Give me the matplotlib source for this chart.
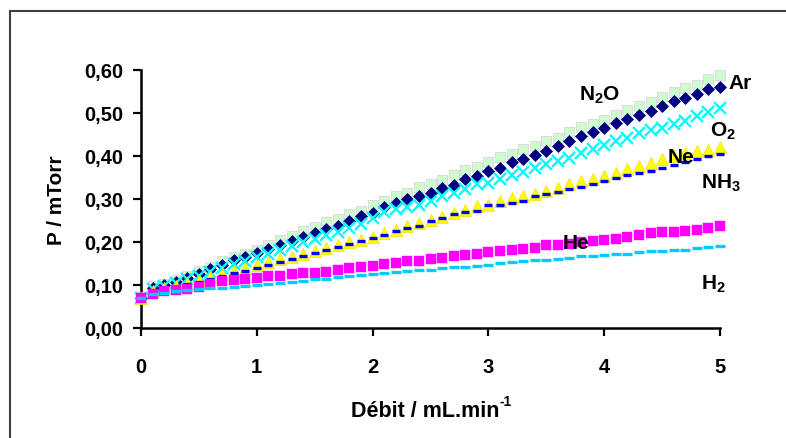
import matplotlib
matplotlib.use("Agg")
import matplotlib.pyplot as plt
from matplotlib.patches import Rectangle

# ---------------- data ----------------
debit = [0.0, 0.1, 0.2, 0.3, 0.4, 0.5, 0.6, 0.7, 0.8, 0.9,
         1.0, 1.1, 1.2, 1.3, 1.4, 1.5, 1.6, 1.7, 1.8, 1.9,
         2.0, 2.1, 2.2, 2.3, 2.4, 2.5, 2.6, 2.7, 2.8, 2.9,
         3.0, 3.1, 3.2, 3.3, 3.4, 3.5, 3.6, 3.7, 3.8, 3.9,
         4.0, 4.1, 4.2, 4.3, 4.4, 4.5, 4.6, 4.7, 4.8, 4.9, 5.0]

p_n2o = [0.071, 0.097, 0.102, 0.112, 0.122, 0.132, 0.143, 0.155, 0.165, 0.171,
         0.182, 0.192, 0.204, 0.213, 0.225, 0.235, 0.246, 0.254, 0.264, 0.273,
         0.286, 0.295, 0.307, 0.315, 0.329, 0.334, 0.344, 0.355, 0.367, 0.375,
         0.386, 0.398, 0.404, 0.416, 0.424, 0.436, 0.443, 0.455, 0.467, 0.474,
         0.484, 0.496, 0.508, 0.517, 0.526, 0.537, 0.548, 0.558, 0.566, 0.578, 0.589]

p_ar = [0.070, 0.092, 0.099, 0.108, 0.117, 0.126, 0.137, 0.147, 0.157, 0.165,
        0.175, 0.184, 0.193, 0.203, 0.212, 0.221, 0.230, 0.238, 0.248, 0.260,
        0.268, 0.282, 0.290, 0.300, 0.307, 0.314, 0.326, 0.332, 0.346, 0.353,
        0.365, 0.373, 0.386, 0.394, 0.402, 0.412, 0.424, 0.435, 0.447, 0.455,
        0.465, 0.477, 0.486, 0.495, 0.505, 0.517, 0.529, 0.534, 0.544, 0.555, 0.560]

p_o2 = [0.070, 0.090, 0.097, 0.105, 0.113, 0.122, 0.131, 0.140, 0.148, 0.156,
        0.164, 0.173, 0.181, 0.190, 0.199, 0.207, 0.216, 0.224, 0.233, 0.243,
        0.256, 0.269, 0.276, 0.282, 0.287, 0.295, 0.307, 0.315, 0.324, 0.334,
        0.338, 0.346, 0.355, 0.363, 0.373, 0.381, 0.388, 0.396, 0.408, 0.416,
        0.426, 0.435, 0.443, 0.453, 0.461, 0.466, 0.474, 0.482, 0.492, 0.502, 0.511]

p_ne = [0.070, 0.086, 0.092, 0.098, 0.105, 0.112, 0.119, 0.126, 0.133, 0.140,
        0.147, 0.153, 0.160, 0.166, 0.173, 0.179, 0.186, 0.192, 0.199, 0.205,
        0.212, 0.221, 0.227, 0.238, 0.244, 0.252, 0.258, 0.268, 0.274, 0.283,
        0.287, 0.295, 0.303, 0.307, 0.312, 0.318, 0.326, 0.334, 0.342, 0.347,
        0.354, 0.361, 0.369, 0.377, 0.383, 0.392, 0.400, 0.406, 0.412, 0.414, 0.420]

p_nh3 = [0.070, 0.084, 0.090, 0.096, 0.102, 0.108, 0.114, 0.120, 0.127, 0.133,
         0.139, 0.146, 0.153, 0.160, 0.167, 0.174, 0.181, 0.188, 0.195, 0.202,
         0.209, 0.217, 0.225, 0.233, 0.238, 0.248, 0.256, 0.264, 0.269, 0.272,
         0.285, 0.287, 0.290, 0.295, 0.308, 0.311, 0.316, 0.324, 0.329, 0.334,
         0.341, 0.348, 0.355, 0.361, 0.365, 0.373, 0.378, 0.386, 0.392, 0.400, 0.404]

p_he = [0.070, 0.080, 0.085, 0.089, 0.091, 0.095, 0.102, 0.109, 0.112, 0.113,
        0.116, 0.120, 0.121, 0.125, 0.128, 0.129, 0.130, 0.136, 0.140, 0.142,
        0.145, 0.149, 0.152, 0.155, 0.155, 0.160, 0.163, 0.168, 0.170, 0.173,
        0.176, 0.178, 0.181, 0.184, 0.186, 0.192, 0.194, 0.196, 0.199, 0.202,
        0.204, 0.207, 0.212, 0.216, 0.220, 0.223, 0.223, 0.225, 0.229, 0.232, 0.237]

p_h2 = [0.070, 0.078, 0.082, 0.085, 0.088, 0.090, 0.092, 0.094, 0.096, 0.098,
        0.101, 0.103, 0.105, 0.108, 0.110, 0.113, 0.115, 0.118, 0.121, 0.123,
        0.126, 0.128, 0.131, 0.132, 0.134, 0.136, 0.139, 0.141, 0.143, 0.145,
        0.147, 0.151, 0.153, 0.155, 0.157, 0.159, 0.161, 0.163, 0.167, 0.168,
        0.170, 0.172, 0.173, 0.176, 0.178, 0.180, 0.182, 0.182, 0.186, 0.188, 0.190]

x_ticks = [0, 1, 2, 3, 4, 5]
x_tick_labels = ["0", "1", "2", "3", "4", "5"]
y_ticks = [0.0, 0.1, 0.2, 0.3, 0.4, 0.5, 0.6]
y_tick_labels = ["0,00", "0,10", "0,20", "0,30", "0,40", "0,50", "0,60"]

gas_labels = ["N$_\\mathbf{2}$O", "Ar", "O$_\\mathbf{2}$", "Ne", "NH$_\\mathbf{3}$", "He", "H$_\\mathbf{2}$"]
label_x = [3.78, 5.07, 4.91, 4.55, 4.84, 3.64, 4.84]
label_y = [0.544, 0.572, 0.460, 0.399, 0.338, 0.199, 0.104]

# ---------------- style ----------------
FONT = "Liberation Sans"
plt.rcParams["font.family"] = [FONT, "DejaVu Sans"]
plt.rcParams["font.weight"] = "bold"
plt.rcParams["mathtext.fontset"] = "custom"
plt.rcParams["mathtext.rm"] = FONT + ":bold"
plt.rcParams["mathtext.bf"] = FONT + ":bold"
plt.rcParams["mathtext.default"] = "bf"

fig = plt.figure(figsize=(7.86, 4.39), dpi=100)
W, H = 786, 439
ax = fig.add_axes([141 / W, (H - 329) / H, (720 - 141) / W, (329 - 71) / H])

# outer frame of the chart area
fig.add_artist(Rectangle((10 / W, -0.1), 1.0, 1.1 - 12 / H, transform=fig.transFigure,
                         fill=False, edgecolor="#404040", linewidth=1.5, zorder=10))

ax.plot(debit, p_n2o, linestyle="none", marker="s", markersize=7.8,
        markerfacecolor="#CCFFCC", markeredgecolor="#DCC8E6", markeredgewidth=0.5,
        clip_on=False, zorder=3)
ax.plot(debit, p_ar, linestyle="none", marker="D", markersize=5.7,
        markerfacecolor="#000080", markeredgecolor="#000080", markeredgewidth=0.5,
        clip_on=False, zorder=4)
ax.plot(debit, p_o2, linestyle="none", marker="x", markersize=8.0,
        markeredgecolor="#00FFFF", markeredgewidth=1.7, clip_on=False, zorder=5)
ax.plot(debit, p_ne, linestyle="none", marker="^", markersize=8.4,
        markerfacecolor="#FFFF00", markeredgecolor="#F0E000", markeredgewidth=0.5,
        clip_on=False, zorder=6)
ax.plot(debit, p_nh3, linestyle="none", marker="_", markersize=5.5,
        markeredgecolor="#0000FF", markeredgewidth=2.4, clip_on=False, zorder=7)
ax.plot(debit, p_he, linestyle="none", marker="s", markersize=6.6,
        markerfacecolor="#FF00FF", markeredgecolor="#FF00FF", markeredgewidth=0.3,
        clip_on=False, zorder=8)
ax.plot(debit, p_h2, linestyle="none", marker="_", markersize=7.0,
        markeredgecolor="#00CCFF", markeredgewidth=2.4, clip_on=False, zorder=9)

for txt, lx, ly in zip(gas_labels, label_x, label_y):
    ax.text(lx, ly, txt, fontsize=15, fontweight="bold", ha="left", va="center",
            color="black", zorder=12)

ax.set_xlim(0, 5)
ax.set_ylim(0, 0.6)
ax.set_xticks(x_ticks)
ax.set_xticklabels(x_tick_labels)
ax.set_yticks(y_ticks)
ax.set_yticklabels(y_tick_labels)

for s in ["top", "right"]:
    ax.spines[s].set_visible(False)
for s in ["left", "bottom"]:
    ax.spines[s].set_linewidth(1.8)
    ax.spines[s].set_color("black")

ax.tick_params(axis="both", direction="out", length=6, width=1.6, colors="black",
               labelsize=14.5)
ax.tick_params(axis="x", pad=15)
ax.tick_params(axis="y", pad=7)
for lab in ax.get_xticklabels() + ax.get_yticklabels():
    lab.set_fontweight("bold")

ax.set_ylabel("P / mTorr", fontsize=15, fontweight="bold")
ax.yaxis.set_label_coords(-84 / (720 - 141), 0.5)
ax.yaxis.label.set_va("center")

# x-axis title with a hyphen superscript, built from two text pieces
xlab_y = (H - 412) / H
main = fig.text(0, xlab_y, "Débit / mL.min", fontsize=15.5, fontweight="bold",
                ha="left", va="center")
sup = fig.text(0, xlab_y, "-1", fontsize=10, fontweight="bold", ha="left", va="bottom")
fig.canvas.draw()
r = fig.canvas.get_renderer()
bm = main.get_window_extent(r)
bs = sup.get_window_extent(r)
total = bm.width + bs.width
cx = 431
x0 = cx - total / 2
main.set_x(x0 / W)
sup.set_x((x0 + bm.width + 0.5) / W)
sup.set_y((bm.y1 - 8) / H)

fig.savefig("out.png", dpi=100)
